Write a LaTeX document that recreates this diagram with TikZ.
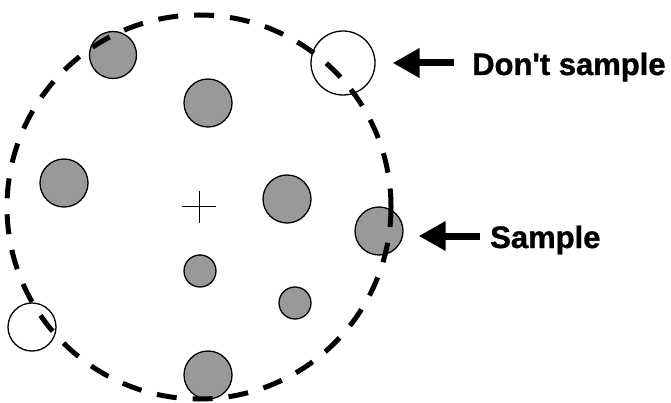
\documentclass[tikz,border=0pt]{standalone}
\usepackage{fontspec}
\newfontfamily\lblfont{Liberation Sans Bold}[FakeBold=1.2]
\usetikzlibrary{arrows.meta}

\begin{document}
\begin{tikzpicture}[x=1pt, y=-1pt,
    ball/.style={circle, draw, line width=1.3pt, fill=black!40, inner sep=0pt, minimum size=#1},
    ring/.style={circle, draw, line width=1.3pt, inner sep=0pt, minimum size=#1},
    fence/.style={line width=5pt, dash pattern=on 20pt off 16pt},
    pointer/.style={line width=7pt, -{Triangle[length=27pt, width=28pt]}},
    lbl/.style={font=\lblfont\fontsize{31}{36}\selectfont, inner sep=0pt, text height=24pt, text depth=0pt, anchor=base west}]
            \useasboundingbox (0,0) rectangle (671,403);
            \coordinate (ctr) at (199,207);

            \node[ball=47pt] (b1) at (113,55) {};
            \node[ball=48pt] (b2) at (208,103) {};
            \node[ball=48pt] (b3) at (64,183) {};
            \node[ball=48pt] (b4) at (287,199) {};
            \node[ball=48pt] (b5) at (379,231) {};
            \node[ball=32pt] (b6) at (200,271) {};
            \node[ball=32pt] (b7) at (295,303) {};
            \node[ball=48pt] (b8) at (208,375) {};

            \node[ring=64pt] (r1) at (343,63) {};
            \node[ring=48pt] (r2) at (32,327) {};

            \draw[fence] (ctr) circle (192);

            \draw[line width=1pt] ([xshift=-17pt]ctr) -- ([xshift=17pt]ctr);
            \draw[line width=1pt] ([yshift=16pt]ctr) -- ([yshift=-16pt]ctr);

            \node[lbl] (dontlbl) at (472,75) {Don't sample};
            \node[lbl] (samplbl) at (490,248) {Sample};

            \draw[pointer, shorten <=18pt, shorten >=17pt] (dontlbl.west) -- (dontlbl.west -| r1.east);
            \draw[pointer, shorten <=10pt, shorten >=15pt] (samplbl.west) -- (samplbl.west -| b5.east);
        \end{tikzpicture}
\end{document}
